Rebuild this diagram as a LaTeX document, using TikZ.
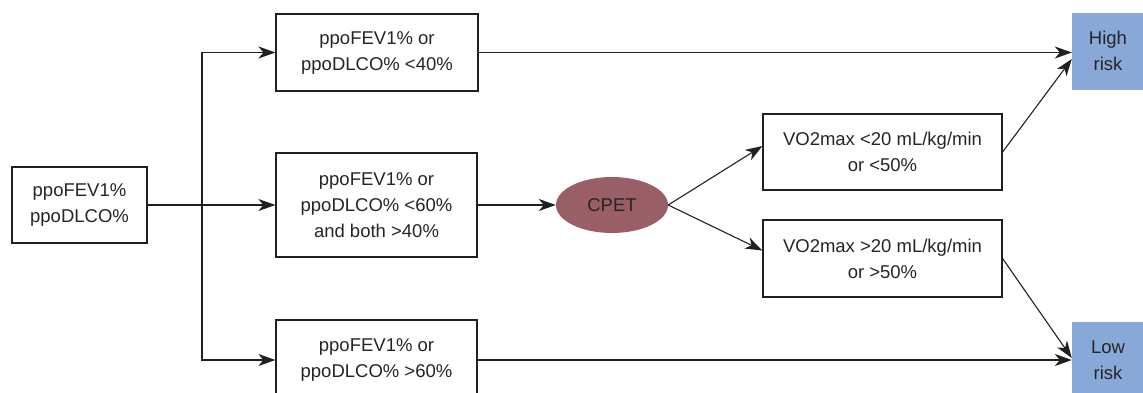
\documentclass[tikz,border=0pt]{standalone}
\usepackage{fontspec}
\setmainfont{Liberation Sans}
\usetikzlibrary{arrows.meta,shapes.geometric}
\definecolor{txt}{HTML}{252525}
\definecolor{ln}{HTML}{231F20}
\definecolor{cpetc}{HTML}{9A5F66}
\definecolor{riskc}{HTML}{88A9D8}
\begin{document}
\begin{tikzpicture}[x=1pt,y=-1pt,
  every node/.style={font=\fontsize{18.5}{26}\selectfont, text=txt, align=center, inner sep=0pt},
  box/.style={draw=ln, line width=1.2pt, rectangle, minimum width=#1},
  riskbox/.style={fill=riskc, rectangle, minimum width=72pt, minimum height=77pt},
  conn/.style={draw=ln, line width=1.1pt},
  arr/.style={conn, -{Stealth[length=17pt,width=12pt,inset=5pt]}}
]
\useasboundingbox (0,0) rectangle (1143,392);
\node[box=135pt, minimum height=76pt] (in) at (79.5,205) {ppoFEV1\%\\ppoDLCO\%};
\node[box=202pt, minimum height=77pt] (b1) at (377,52.5) {ppoFEV1\% or\\ppoDLCO\% <40\%};
\node[box=201pt, minimum height=104pt] (b2) at (376.5,205) {ppoFEV1\% or\\ppoDLCO\% <60\%\\and both >40\%};
\node[box=201pt, minimum height=80pt] (b3) at (376.5,360) {ppoFEV1\% or\\ppoDLCO\% >60\%};
\node[ellipse, fill=cpetc, minimum width=112pt, minimum height=56pt] (cpet) at (612,205) {CPET};
\node[box=239pt, minimum height=76pt] (v1) at (882.5,152) {VO2max <20 mL/kg/min\\or <50\%};
\node[box=239pt, minimum height=77pt] (v2) at (882.5,258.5) {VO2max >20 mL/kg/min\\or >50\%};
\node[riskbox] (hi) at (1108,51) {High\\risk};
\node[riskbox] (lo) at (1108,360) {Low\\risk};
\coordinate (split) at (202,205);
\draw[arr] (in.east) -- (b2.west);
\draw[arr] (split) |- (b1.west);
\draw[arr] (split) |- (b3.west);
\draw[arr] (b2.east) -- (cpet.west);
\draw[arr] (cpet.east) -- ([yshift=6pt]v1.west);
\draw[arr] (cpet.east) -- ([yshift=8pt]v2.west);
\draw[arr] (b1.east) -- (b1.east -| hi.west);
\draw[arr] (v1.east) -- ([yshift=-8pt]hi.west);
\draw[arr] (b3.east) -- (b3.east -| lo.west);
\draw[arr] (v2.east) -- ([yshift=2pt]lo.west);
\end{tikzpicture}
\end{document}
